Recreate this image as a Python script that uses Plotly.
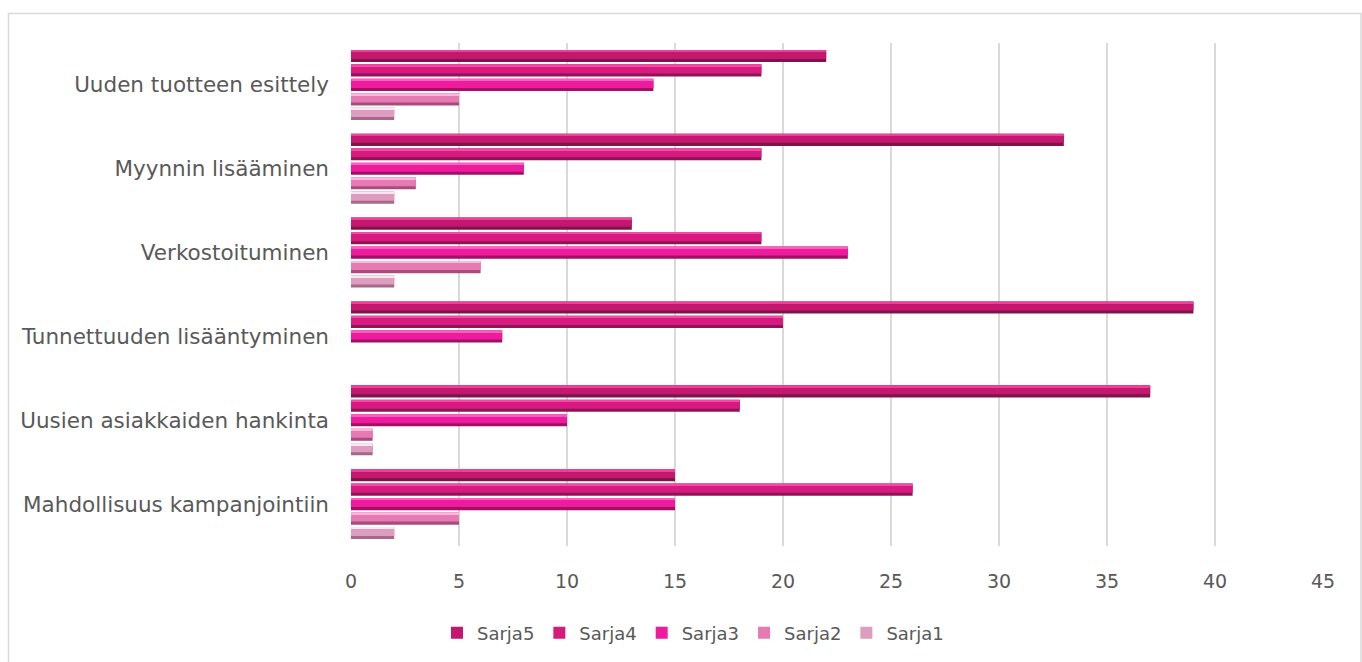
import plotly.graph_objects as go

# Categories listed bottom-to-top as they appear on the axis
categories = [
    "Mahdollisuus kampanjointiin",
    "Uusien asiakkaiden hankinta",
    "Tunnettuuden lisääntyminen",
    "Verkostoituminen",
    "Myynnin lisääminen",
    "Uuden tuotteen esittely",
]

series_names = ["Sarja1", "Sarja2", "Sarja3", "Sarja4", "Sarja5"]

sarja1 = [2, 1, 0, 2, 2, 2]
sarja2 = [5, 1, 0, 6, 3, 5]
sarja3 = [15, 10, 7, 23, 8, 14]
sarja4 = [26, 18, 20, 19, 19, 19]
sarja5 = [15, 37, 39, 13, 33, 22]

series_values = [sarja1, sarja2, sarja3, sarja4, sarja5]

# (body, highlight, shadow) per series, giving the bevelled look
palette = [
    ("#DC9DBE", "#FBE6F1", "#A8678A"),
    ("#E67AB2", "#FFB6DE", "#A94C7D"),
    ("#EE1C9C", "#FF5CC4", "#A30E66"),
    ("#D8197F", "#F24AA5", "#8E1555"),
    ("#C4176F", "#EC4099", "#7E1449"),
]

pitch = 0.1726        # distance between neighbouring bars in a group
thick = 0.145         # bar thickness, category units

fig = go.Figure()

for i, (name, vals, (body, hi, sh)) in enumerate(zip(series_names, series_values, palette)):
    centre = (i - 2) * pitch
    base = centre - thick / 2
    # shadow (full thickness)
    fig.add_trace(go.Bar(
        y=categories, x=vals, orientation="h", name=name, legendgroup=name,
        showlegend=False, width=thick, offset=base,
        marker=dict(color=sh, line=dict(width=0)), hoverinfo="skip",
    ))
    # body
    fig.add_trace(go.Bar(
        y=categories, x=vals, orientation="h", name=name, legendgroup=name,
        showlegend=True, width=thick * 0.62, offset=base + thick * 0.25,
        marker=dict(color=body, line=dict(width=0)),
    ))
    # top highlight
    fig.add_trace(go.Bar(
        y=categories, x=vals, orientation="h", name=name, legendgroup=name,
        showlegend=False, width=thick * 0.16, offset=base + thick * 0.84,
        marker=dict(color=hi, line=dict(width=0)), hoverinfo="skip",
    ))

# Outer chart frame
L, R, T, B = 351, 39, 43, 115
W, H = 1362, 662
pw, ph = W - L - R, H - T - B


def px_x(px):
    return (px - L) / pw


def px_y(py):
    return (H - B - py) / ph


fig.add_shape(
    type="rect", xref="paper", yref="paper",
    x0=px_x(8.5), x1=px_x(1361), y0=px_y(13.5), y1=px_y(720),
    line=dict(color="#D9D9D9", width=1.5), fillcolor="rgba(0,0,0,0)", layer="below",
)

font_family = "DejaVu Sans"
fig.update_layout(
    width=W, height=H,
    margin=dict(l=L, r=R, t=T, b=B),
    paper_bgcolor="white", plot_bgcolor="white",
    barmode="overlay",
    font=dict(family=font_family, color="#595959", size=20),
    xaxis=dict(
        range=[0, 45], dtick=5, tick0=0,
        showgrid=True, gridcolor="#D9D9D9", gridwidth=1.5,
        zeroline=False, showline=False, ticks="",
        tickfont=dict(size=19, color="#595959"), ticklabelstandoff=22,
    ),
    yaxis=dict(
        range=[-0.5, 5.5], showgrid=False, zeroline=False, showline=False,
        ticks="", ticklabelstandoff=21, tickfont=dict(size=21.5, color="#595959"),
    ),
    legend=dict(
        orientation="h", traceorder="reversed",
        x=px_x(693), xanchor="center", y=px_y(633), yanchor="middle",
        font=dict(size=18, color="#595959"), itemwidth=30,
    ),
    showlegend=True,
)

fig.write_html("out.html")
